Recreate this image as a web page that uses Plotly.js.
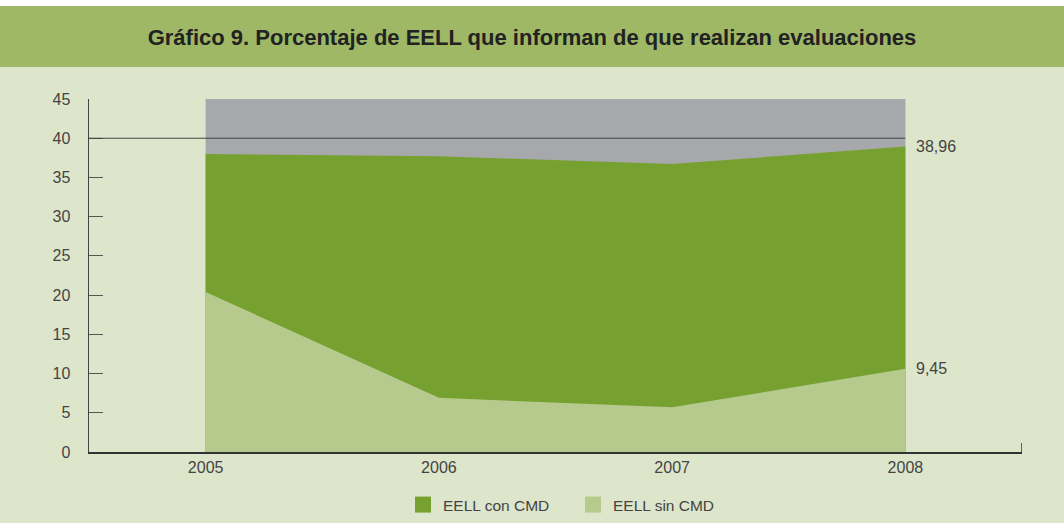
<!DOCTYPE html>
<html>
<head>
<meta charset="utf-8">
<script src="https://cdn.plot.ly/plotly-3.0.1.min.js"></script>
<style>html,body{margin:0;padding:0;background:#dde6cb;}#chart{width:1064px;height:523px;}</style>
</head>
<body>
<div id="chart"></div>
<script>
// Data
const years = [2005, 2006, 2007, 2008];
const seriesNames = ['EELL con CMD', 'EELL sin CMD'];
const conCMD = [38.0, 37.7, 36.7, 38.96];
const sinCMD = [20.4, 6.9, 5.7, 10.6];
const background = [45, 45, 45, 45];
const refLine = 40;
const endLabels = ['38,96', '9,45'];
const yTicks = [0, 5, 10, 15, 20, 25, 30, 35, 40, 45];
const titleText = 'Gráfico 9. Porcentaje de EELL que informan de que realizan evaluaciones';

const C_GRAY = '#a7a8ab', C_DARK = '#76a131', C_LIGHT = '#b6ca8d';
const FONT = 'Liberation Sans, Arial, sans-serif';

const traces = [
  {x: years, y: background, type: 'scatter', mode: 'none', fill: 'tozeroy', fillcolor: C_GRAY, showlegend: false, hoverinfo: 'skip'},
  {x: years, y: conCMD, type: 'scatter', mode: 'none', fill: 'tozeroy', fillcolor: C_DARK, showlegend: false, name: seriesNames[0]},
  {x: years, y: sinCMD, type: 'scatter', mode: 'none', fill: 'tozeroy', fillcolor: C_LIGHT, showlegend: false, name: seriesNames[1]},
  {x: [null], y: [null], type: 'scatter', mode: 'markers', name: seriesNames[0], legend: 'legend', marker: {symbol: 'square', size: 16, color: C_DARK}},
  {x: [null], y: [null], type: 'scatter', mode: 'markers', name: seriesNames[1], legend: 'legend2', marker: {symbol: 'square', size: 16, color: C_LIGHT}}
];

const legendBase = {orientation: 'h', xanchor: 'left', xref: 'paper', y: 1 - 505/523, yanchor: 'middle', yref: 'container',
                    font: {size: 15.5, color: '#444'}, bgcolor: 'rgba(0,0,0,0)', itemwidth: 30};

const last = years.length - 1;
const layout = {
  width: 1064, height: 523,
  paper_bgcolor: '#dde6cb', plot_bgcolor: 'rgba(0,0,0,0)',
  margin: {l: 89, r: 42, t: 99, b: 71, autoexpand: false},
  font: {family: FONT, size: 16, color: '#444'},
  title: {text: '<b>' + titleText + '</b>', font: {family: FONT, size: 22, color: '#222'},
          x: 0.5, xanchor: 'center', y: 1 - 37/523, yanchor: 'middle', yref: 'container'},
  showlegend: true,
  legend: Object.assign({}, legendBase, {x: (403 - 89) / 933}),
  legend2: Object.assign({}, legendBase, {x: (573 - 89) / 933}),
  xaxis: {range: [2004.5, 2008.5], tickvals: years, ticktext: years.map(String), ticks: '',
          showgrid: false, zeroline: false, showline: true, linecolor: '#333', linewidth: 1.5,
          tickfont: {size: 16, color: '#444'}, fixedrange: true, automargin: false},
  yaxis: {range: [0, 45], tickvals: yTicks, ticks: 'inside', ticklen: 14, tickcolor: '#555', tickwidth: 1.2,
          showgrid: false, zeroline: false, showline: true, linecolor: '#444', linewidth: 1.5,
          tickfont: {size: 16, color: '#444'}, ticklabelstandoff: 14, fixedrange: true, automargin: false},
  shapes: [
    {type: 'rect', xref: 'paper', yref: 'paper', x0: -0.2, x1: 1.2, y0: (452-67)/353, y1: (452-6)/353,
     fillcolor: '#9eb866', line: {width: 0}, layer: 'below'},
    {type: 'rect', xref: 'paper', yref: 'paper', x0: -0.2, x1: 1.2, y0: (452-6)/353, y1: 1.4,
     fillcolor: '#ffffff', line: {width: 0}, layer: 'below'},
    {type: 'line', xref: 'x', yref: 'y', x0: 2004.5, x1: years[last], y0: refLine, y1: refLine,
     line: {color: '#444', width: 1}, layer: 'above'},
    {type: 'line', xref: 'x', yref: 'paper', x0: 2008.5, x1: 2008.5, y0: 0, y1: 9/353,
     line: {color: '#333', width: 1.5}, layer: 'above'}
  ],
  annotations: [
    {x: years[last], y: conCMD[last], xref: 'x', yref: 'y', text: endLabels[0], showarrow: false,
     xanchor: 'left', yanchor: 'middle', xshift: 9, yshift: 0, font: {size: 16, color: '#444'}},
    {x: years[last], y: sinCMD[last], xref: 'x', yref: 'y', text: endLabels[1], showarrow: false,
     xanchor: 'left', yanchor: 'middle', xshift: 9, yshift: 0, font: {size: 16, color: '#444'}}
  ]
};

Plotly.newPlot('chart', traces, layout, {displayModeBar: false, staticPlot: true});
</script>
</body>
</html>
